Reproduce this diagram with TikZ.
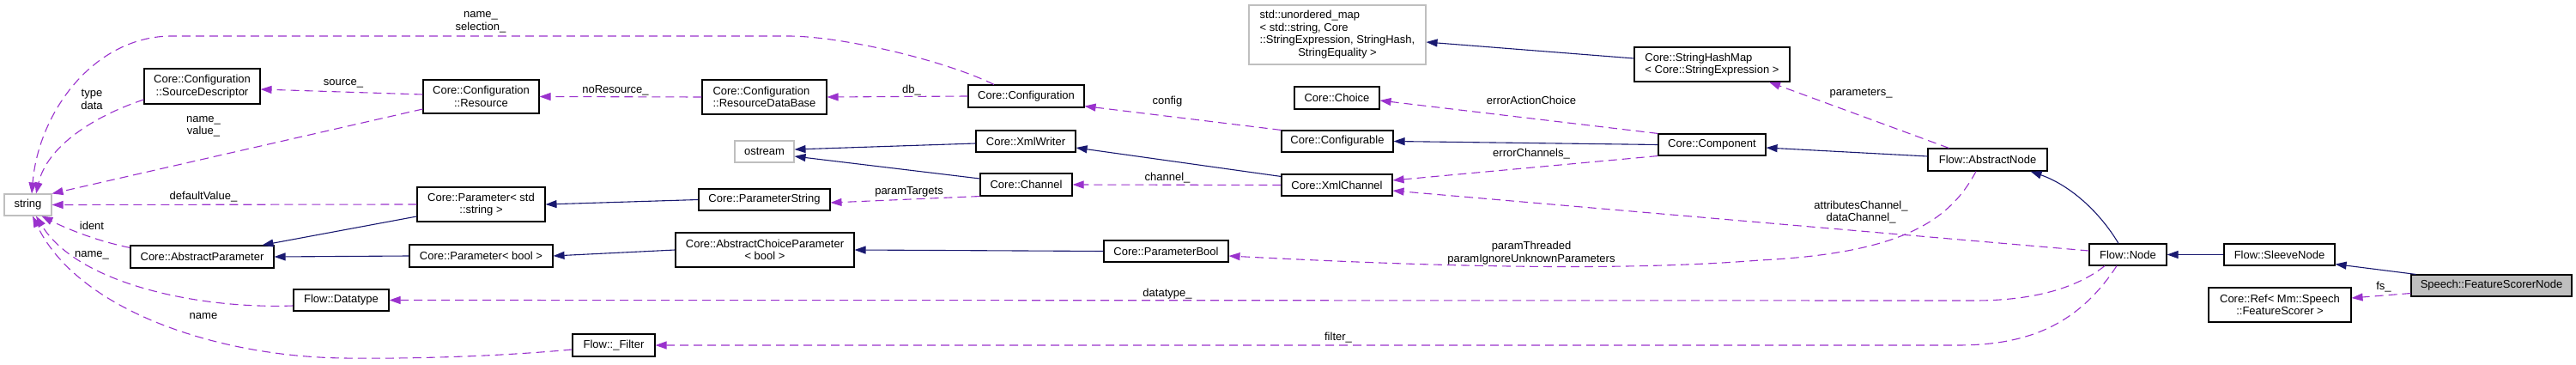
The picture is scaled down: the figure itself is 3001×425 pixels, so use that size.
\documentclass[tikz,border=0pt]{standalone}
\usepackage{fontspec}
\setmainfont{Liberation Sans}
\usetikzlibrary{arrows.meta}
\definecolor{inhblue}{HTML}{191970}
\definecolor{usepurple}{HTML}{9A32CD}
\definecolor{boxgray}{HTML}{BFBFBF}
\newcommand{\lblfont}{\fontsize{13pt}{14.5pt}\selectfont}
\tikzset{
  box/.style={draw=black, line width=1.1pt, fill=white, inner sep=0pt, align=center, font=\lblfont},
  graybox/.style={box, draw=boxgray},
  inh/.style={draw=inhblue, line width=1.1pt, -{Triangle[length=13pt,width=9pt]}},
  use/.style={draw=usepurple, line width=1.1pt, dash pattern=on 10pt off 6pt, -{Triangle[length=13pt,width=9pt]}},
  lab/.style={font=\lblfont, align=center, inner sep=0pt},
}
\begin{document}
\begin{tikzpicture}[x=1pt,y=-1pt]
\useasboundingbox (0,0) rectangle (3001,425);
% nodes
\node[graybox, minimum width=55pt, minimum height=25pt] (string) at (32.5,238.5) {string};
\node[box, minimum width=135pt, minimum height=41pt] (srcdesc) at (235.5,100.5) {Core::Configuration\\::SourceDescriptor};
\node[box, minimum width=167pt, minimum height=26pt] (absparam) at (235.5,299) {Core::AbstractParameter};
\node[box, minimum width=111pt, minimum height=25pt] (datatype) at (397.5,349.5) {Flow::Datatype};
\node[box, minimum width=135pt, minimum height=39pt] (resource) at (560.5,112.5) {Core::Configuration\\::Resource};
\node[box, align=left, minimum width=145pt, minimum height=40pt] (rdb) at (890.5,113) {Core::Configuration\\::ResourceDataBase};
\node[graybox, minimum width=69pt, minimum height=25pt] (ostream) at (890.5,176.5) {ostream};
\node[box, minimum width=149pt, minimum height=40pt] (pstr) at (560.5,238) {Core::Parameter< std\\::string >};
\node[box, minimum width=153pt, minimum height=25pt] (pstring) at (890.5,232.5) {Core::ParameterString};
\node[box, minimum width=167pt, minimum height=26pt] (pbool) at (560.5,298) {Core::Parameter< bool >};
\node[box, minimum width=208pt, minimum height=40pt] (acp) at (891,291) {Core::AbstractChoiceParameter\\< bool >};
\node[box, minimum width=96pt, minimum height=26pt] (filter) at (715,402) {Flow::\_Filter};
\node[graybox, minimum width=206pt, minimum height=69pt] (umap) at (1558,40.5) {\begin{tabular}{@{}l@{}}std::unordered\_map\\< std::string, Core\\::StringExpression, StringHash,\\\multicolumn{1}{@{}c@{}}{StringEquality >}\end{tabular}};
\node[box, minimum width=135pt, minimum height=26pt] (config) at (1195.5,112) {Core::Configuration};
\node[box, minimum width=99pt, minimum height=26pt] (choice) at (1557.5,114) {Core::Choice};
\node[box, minimum width=116pt, minimum height=25pt] (xmlwriter) at (1195,164.5) {Core::XmlWriter};
\node[box, minimum width=130pt, minimum height=25pt] (configurable) at (1558,164.5) {Core::Configurable};
\node[box, minimum width=107pt, minimum height=26pt] (channel) at (1195.5,215) {Core::Channel};
\node[box, minimum width=129pt, minimum height=25pt] (xmlchannel) at (1557.5,215.5) {Core::XmlChannel};
\node[box, minimum width=145pt, minimum height=25pt] (parambool) at (1358.5,292.5) {Core::ParameterBool};
\node[box, align=left, minimum width=181pt, minimum height=40pt] (shm) at (1994.5,75) {Core::StringHashMap\\< Core::StringExpression >};
\node[box, minimum width=125pt, minimum height=25pt] (component) at (1994.5,168.5) {Core::Component};
\node[box, minimum width=139pt, minimum height=26pt] (anode) at (2315.5,186) {Flow::AbstractNode};
\node[box, minimum width=90pt, minimum height=25pt] (fnode) at (2479,296.5) {Flow::Node};
\node[box, minimum width=129pt, minimum height=25pt] (sleeve) at (2655.5,296.5) {Flow::SleeveNode};
\node[box, fill=boxgray, minimum width=187pt, minimum height=25pt] (fsn) at (2902.5,332.5) {Speech::FeatureScorerNode};
\node[box, minimum width=166pt, minimum height=40pt] (ref) at (2656,355) {Core::Ref< Mm::Speech\\::FeatureScorer >};
% inheritance
\draw[inh] ([yshift=-14pt]pstr.west) -- ([xshift=70pt]absparam.north);
\draw[inh] (pbool.west) -- (absparam.east);
\draw[inh] (pstring.west) -- (pstr.east);
\draw[inh] (acp.west) -- (pbool.east);
\draw[inh] (parambool.west) -- (acp.east);
\draw[inh] ([yshift=-2.5pt]xmlwriter.west) -- ([yshift=2.5pt]ostream.east);
\draw[inh] ([yshift=7pt]channel.west) -- ([yshift=-5.5pt]ostream.east);
\draw[inh] ([yshift=10pt]xmlchannel.west) -- ([yshift=-7.5pt]xmlwriter.east);
\draw[inh] (component.west) -- (configurable.east);
\draw[inh] ([yshift=4pt]anode.west) -- ([yshift=-3.5pt]component.east);
\draw[inh] ([yshift=7pt]shm.west) -- ([yshift=-8.5pt]umap.east);
\draw[inh] ([xshift=-11pt]fnode.north) .. controls (2445,245) and (2410,215) .. ([xshift=50pt]anode.south);
\draw[inh] (sleeve.west) -- (fnode.east);
\draw[inh] ([xshift=-88pt]fsn.north) -- ([yshift=2pt]sleeve.south east);
% usage
\draw[use] ([xshift=-37.5pt]config.north) .. controls (1100,70) and (980,42) .. (918,42) -- (200,42) .. controls (110,42) and (45,130) .. ([xshift=4.5pt]string.north);
\draw[use] ([yshift=-15.5pt]srcdesc.west) .. controls (110,135) and (55,170) .. ([xshift=9.5pt]string.north);
\draw[use] ([yshift=2.5pt]resource.west) -- ([yshift=-3.5pt]srcdesc.east);
\draw[use] ([yshift=-14.5pt]resource.west) -- (string.north east);
\draw[use] (rdb.west) -- (resource.east);
\draw[use] (config.west) -- (rdb.east);
\draw[use] (configurable.north west) -- ([yshift=2pt]config.south east);
\draw[use] (component.north west) -- ([yshift=-3pt]choice.east);
\draw[use] (component.south west) -- ([yshift=5.5pt]xmlchannel.east);
\draw[use] ([yshift=4.5pt]fnode.west) -- ([yshift=-6.5pt]xmlchannel.east);
\draw[use] (xmlchannel.west) -- (channel.east);
\draw[use] (channel.south west) -- ([yshift=-3.5pt]pstring.east);
\draw[use] ([xshift=-45pt]anode.north) -- ([xshift=66.5pt]shm.south);
\draw[use] ([xshift=-13.5pt]anode.south) .. controls (2270,260) and (2210,295) .. (2050,303) .. controls (1900,315) and (1700,312) .. ([yshift=-5.5pt]parambool.east);
\draw[use] ([xshift=-27pt]fnode.south) .. controls (2420,335) and (2370,350) .. (2300,350) -- (datatype.east);
\draw[use] ([xshift=-13pt]fnode.south) .. controls (2420,380) and (2360,402) .. (2280,402) -- (filter.east);
\draw[use] ([yshift=-3pt]absparam.north west) .. controls (110,280) and (75,265) .. ([xshift=16pt]string.south);
\draw[use] ([yshift=-6.5pt]datatype.west) .. controls (230,360) and (90,330) .. ([xshift=9.5pt]string.south);
\draw[use] ([yshift=-5pt]filter.west) .. controls (580,415) and (480,418) .. (400,417) .. controls (250,415) and (90,360) .. ([xshift=5.5pt]string.south);
\draw[use] (pstr.west) -- (string.east);
\draw[use] ([yshift=-9pt]fsn.west) -- ([yshift=8pt]ref.east);
% labels
\node[lab] (l1) at (560,26) {name\_\\selection\_};
\node[lab] (l2) at (107,116) {type\\data};
\node[lab] (l3) at (400,97) {source\_};
\node[lab] (l4) at (237,147.5) {name\_\\value\_};
\node[lab] (l5) at (717,105) {noResource\_};
\node[lab] (l6) at (1062,105) {db\_};
\node[lab] (l7) at (1360,118) {config};
\node[lab] (l8) at (1784,117) {errorActionChoice};
\node[lab] (l9) at (1784,179) {errorChannels\_};
\node[lab] (l10) at (2168,247) {attributesChannel\_\\dataChannel\_};
\node[lab] (l11) at (1360,207) {channel\_};
\node[lab] (l12) at (1059,223) {paramTargets};
\node[lab] (l13) at (2168,109) {parameters\_};
\node[lab] (l14) at (1784,294.5) {paramThreaded\\paramIgnoreUnknownParameters};
\node[lab] (l15) at (1360,342) {datatype\_};
\node[lab] (l16) at (1559,393) {filter\_};
\node[lab] (l17) at (107,263) {ident};
\node[lab] (l18) at (107,297) {name\_};
\node[lab] (l19) at (237,368) {name};
\node[lab] (l20) at (237,229) {defaultValue\_};
\node[lab] (l21) at (2777,334) {fs\_};
\end{tikzpicture}
\end{document}
